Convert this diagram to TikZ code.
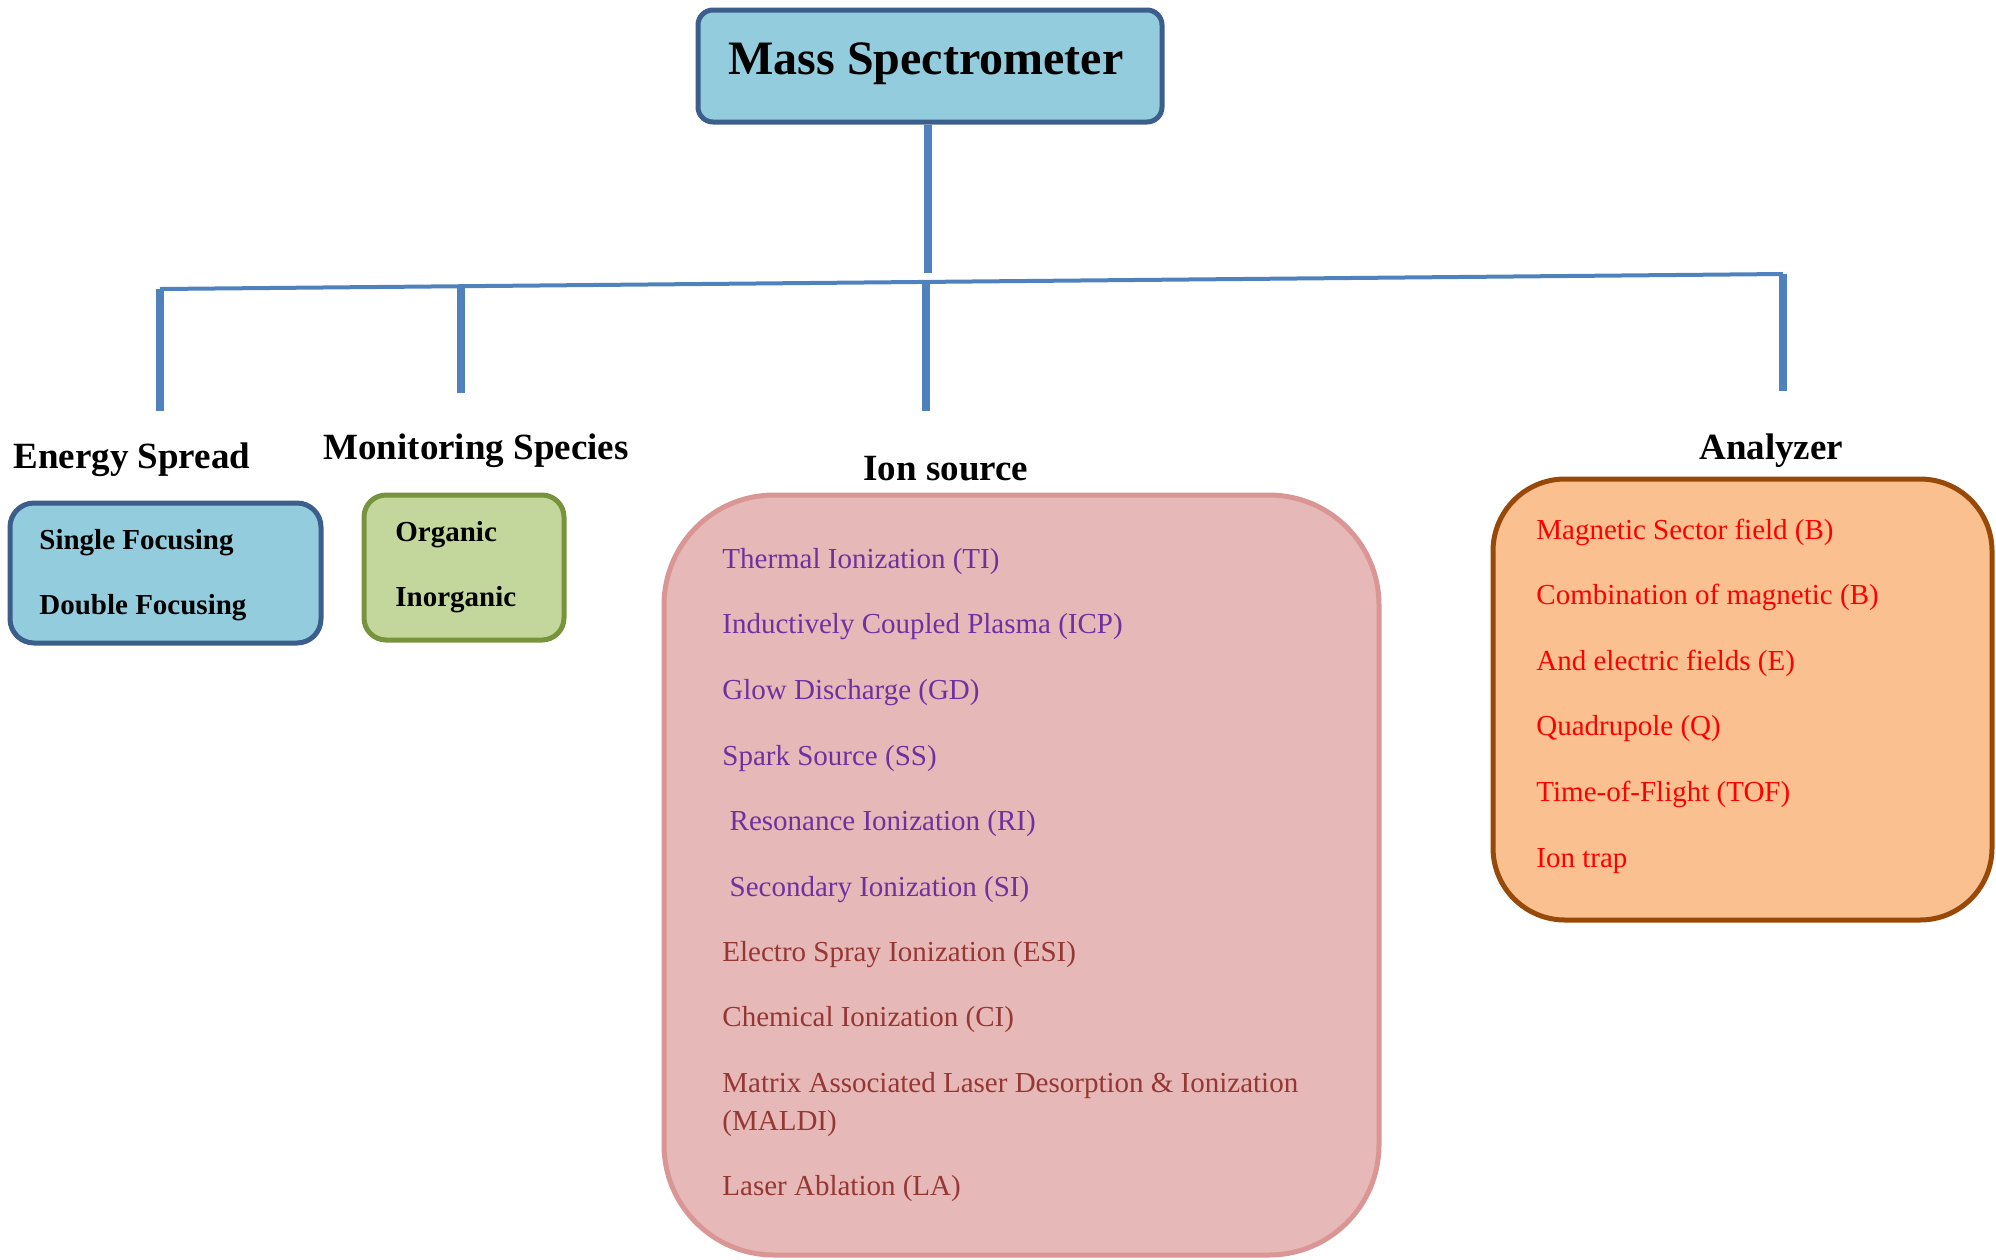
\documentclass[tikz,border=0pt]{standalone}
\usepackage{fontspec}
\setmainfont{Liberation Serif}
\definecolor{conn}{HTML}{4F81BD}
\definecolor{tfill}{HTML}{93CDDD}
\definecolor{tdraw}{HTML}{3B5E8C}
\definecolor{mfill}{HTML}{C3D69B}
\definecolor{mdraw}{HTML}{77933C}
\definecolor{ifill}{HTML}{E6B8B7}
\definecolor{idraw}{HTML}{D99694}
\definecolor{afill}{HTML}{FAC090}
\definecolor{adraw}{HTML}{984807}
\definecolor{purp}{HTML}{7030A0}
\definecolor{dred}{HTML}{953734}
\definecolor{bred}{HTML}{FF0000}
\begin{document}
\begin{tikzpicture}[x=0.5pt,y=-0.5pt,
  box/.style={rectangle, line width=2.5pt, inner sep=0pt},
  head/.style={font=\bfseries\fontsize{18.5}{22}\selectfont, anchor=base west, inner sep=0pt},
  item/.style={font=\bfseries\fontsize{14.5}{17}\selectfont, anchor=base west, inner sep=0pt},
  ionitem/.style={font=\fontsize{14.5}{17}\selectfont, anchor=base west, inner sep=0pt},
  conline/.style={draw=conn, line width=3.8pt},
  barline/.style={draw=conn, line width=2pt}]
\useasboundingbox (0,0) rectangle (1996,1259);

% title
\node[box, fill=tfill, draw=tdraw, rounded corners=7.5pt, minimum width=232pt, minimum height=56pt] (ms) at (930,66) {};
\node[font=\bfseries\fontsize{24}{28}\selectfont, anchor=base west, inner sep=0pt] (mstext) at (728,74) {Mass Spectrometer};

% connector tree
\coordinate (bl) at (160,289);
\coordinate (br) at (1783,274);
\coordinate (b2) at (461,286.2);
\coordinate (b3) at (926,281.9);
\coordinate (e0) at (928,273);
\coordinate (e1) at (160,411);
\coordinate (e2) at (461,393);
\coordinate (e3) at (926,411);
\coordinate (e4) at (1783,391);
\draw[conline] (ms.south -| e0) -- (e0);
\draw[barline] (bl) -- (br);
\draw[conline] (bl) -- (e1);
\draw[conline] (b2) -- (e2);
\draw[conline] (b3) -- (e3);
\draw[conline] (br) -- (e4);

% headings
\node[head] (hes) at (13,468) {Energy Spread};
\node[head] (hms) at (323,459) {Monitoring Species};
\node[head] (his) at (863,480) {Ion source};
\node[head] (han) at (1699,459) {Analyzer};

% energy spread box
\node[box, fill=tfill, draw=tdraw, rounded corners=12pt, minimum width=155.5pt, minimum height=70pt] (ebox) at (165.5,573) {};
\node[item] (sf) at (39,549) {Single Focusing};
\node[item] (df) at (39,614) {Double Focusing};

% monitoring box
\node[box, fill=mfill, draw=mdraw, rounded corners=11pt, minimum width=100pt, minimum height=72.5pt] (mbox) at (464,567.5) {};
\node[item] (org) at (395,541) {Organic};
\node[item] (inorg) at (395,606) {Inorganic};

% ion source box
\node[box, fill=ifill, draw=idraw, rounded corners=55pt, minimum width=357.5pt, minimum height=380pt] (ibox) at (1021.5,875) {};
\begin{scope}[every node/.style={ionitem, text=purp}]
\node (i1) at (722,568) {Thermal Ionization (TI)};
\node (i2) at (722,633) {Inductively Coupled Plasma (ICP)};
\node (i3) at (722,699) {Glow Discharge (GD)};
\node (i4) at (722,765) {Spark Source (SS)};
\node (i5) at (722,830) {\ Resonance Ionization (RI)};
\node (i6) at (722,896) {\ Secondary Ionization (SI)};
\end{scope}
\begin{scope}[every node/.style={ionitem, text=dred}]
\node (i7) at (722,961) {Electro Spray Ionization (ESI)};
\node (i8) at (722,1026) {Chemical Ionization (CI)};
\node (i9) at (722,1092) {Matrix Associated Laser Desorption \& Ionization};
\node (i9b) at (722,1130) {(MALDI)};
\node (i10) at (722,1195) {Laser Ablation (LA)};
\end{scope}

% analyzer box
\node[box, fill=afill, draw=adraw, rounded corners=36pt, minimum width=249.5pt, minimum height=220.5pt] (abox) at (1742.5,699.5) {};
\begin{scope}[every node/.style={ionitem, text=bred}]
\node (a1) at (1536,539) {Magnetic Sector field (B)};
\node (a2) at (1536,604) {Combination of magnetic (B)};
\node (a3) at (1536,670) {And electric fields (E)};
\node (a4) at (1536,735) {Quadrupole (Q)};
\node (a5) at (1536,801) {Time-of-Flight (TOF)};
\node (a6) at (1536,867) {Ion trap};
\end{scope}
\end{tikzpicture}
\end{document}
